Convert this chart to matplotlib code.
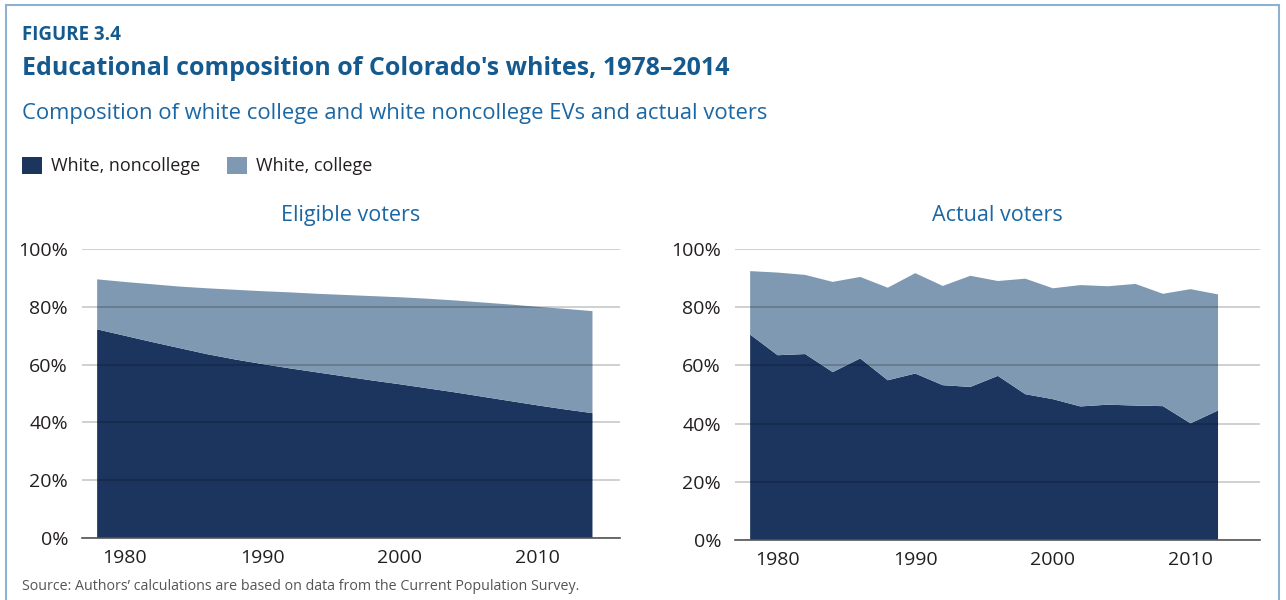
import matplotlib.pyplot as plt
from matplotlib.patches import Rectangle
from matplotlib.ticker import FuncFormatter

# eligible voters, every two years 1978-2014 (percent)
ev_years = list(range(1978, 2015, 2))
ev_noncollege = [72.2, 70.0, 67.8, 65.7, 63.6, 61.8, 60.2, 58.7, 57.3, 55.9,
                 54.5, 53.2, 51.8, 50.4, 48.9, 47.4, 45.9, 44.5, 43.2]
ev_total = [89.5, 88.6, 87.8, 87.0, 86.4, 85.9, 85.4, 85.0, 84.5, 84.1,
            83.7, 83.3, 82.8, 82.2, 81.5, 80.8, 80.0, 79.3, 78.5]
ev_college = [t - n for t, n in zip(ev_total, ev_noncollege)]

# actual voters, every two years 1978-2012 (percent)
av_years = list(range(1978, 2013, 2))
av_noncollege = [70.6, 63.5, 63.9, 57.7, 62.4, 54.9, 57.2, 53.2, 52.6, 56.4,
                 50.1, 48.4, 45.9, 46.5, 46.2, 46.0, 40.1, 44.5]
av_total = [92.4, 91.9, 91.1, 88.7, 90.4, 86.7, 91.7, 87.3, 90.8, 89.0,
            89.8, 86.5, 87.6, 87.2, 88.0, 84.6, 86.2, 84.4]
av_college = [t - n for t, n in zip(av_total, av_noncollege)]

series_names = ["White, noncollege", "White, college"]
x_ticks = [1980, 1990, 2000, 2010]
y_ticks = [0, 20, 40, 60, 80, 100]

dark = "#1c355e"
light = "#7f99b2"
blue = "#155a8f"
blue2 = "#1b67a3"
txt = "#231f20"

plt.rcParams['font.family'] = ['Open Sans', 'DejaVu Sans']

fig = plt.figure(figsize=(12.86, 6), dpi=100)

# light blue frame around the figure
fig.patches.append(Rectangle((6 / 1286, -0.1), 1273 / 1286, 1.1 - 5 / 600,
                             transform=fig.transFigure, fill=False,
                             edgecolor="#8fb1d0", linewidth=1.5))

fig.text(22 / 1286, 1 - 40 / 600, "FIGURE 3.4", color=blue, fontsize=13.5,
         fontweight="bold", va="baseline")
fig.text(22 / 1286, 1 - 75 / 600, "Educational composition of Colorado's whites, 1978\u20132014",
         color=blue, fontsize=18, fontweight="bold", va="baseline")
fig.text(22 / 1286, 1 - 119 / 600,
         "Composition of white college and white noncollege EVs and actual voters",
         color=blue2, fontsize=15.8, va="baseline")
fig.text(22 / 1286, 1 - 590 / 600,
         "Source: Authors\u2019 calculations are based on data from the Current Population Survey.",
         color="#555555", fontsize=10.3, va="baseline")

ax1 = fig.add_axes([82 / 1286, 1 - 538 / 600, 538 / 1286, 289 / 600])
ax2 = fig.add_axes([735 / 1286, 1 - 540 / 600, 525 / 1286, 291 / 600])

panels = [
    (ax1, ev_years, ev_noncollege, ev_college, "Eligible voters", (1976.9, 2016.0)),
    (ax2, av_years, av_noncollege, av_college, "Actual voters", (1976.9, 2015.05)),
]

for ax, yrs, nonc, coll, title, xl in panels:
    polys = ax.stackplot(yrs, nonc, coll, colors=[dark, light],
                         labels=series_names, linewidth=0)
    ax.set_xlim(*xl)
    ax.set_ylim(0, 100)
    ax.set_xticks(x_ticks)
    ax.set_yticks(y_ticks)
    ax.yaxis.set_major_formatter(FuncFormatter(lambda v, p: f"{v:.0f}%"))
    ax.set_axisbelow(False)
    ax.yaxis.grid(True, color="black", alpha=0.2, linewidth=1.3)
    ax.xaxis.grid(False)
    for s in ["top", "right", "left"]:
        ax.spines[s].set_visible(False)
    ax.spines["bottom"].set_color("#555555")
    ax.spines["bottom"].set_linewidth(1.2)
    ax.spines["bottom"].set_zorder(4)
    ax.tick_params(length=0, labelsize=14, labelcolor=txt)
    ax.tick_params(axis="x", pad=8)
    ax.tick_params(axis="y", pad=10)
    ax.set_title(title, color=blue2, fontsize=15.5, pad=20)

handles = polys
fig.legend(handles, series_names, loc="center left",
           bbox_to_anchor=(22 / 1286, 1 - 166 / 600), ncol=2, frameon=False,
           handlelength=1.1, handleheight=1.1, handletextpad=0.5,
           columnspacing=1.5, borderaxespad=0, borderpad=0,
           prop={"size": 13}, labelcolor=txt)

fig.savefig("out.png", dpi=100)
